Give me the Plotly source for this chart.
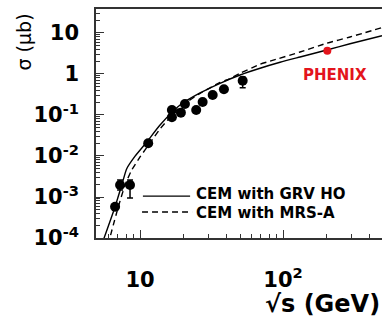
import math
import plotly.graph_objects as go

# ---- data ----
# CEM with GRV HO (solid)
grv_sqrt_s = [5.54, 6.69, 7.45, 8.07, 9.23, 11.14, 13.80, 19.04, 26.28, 36.26, 50.03, 69.07, 95.3, 131.5, 202.1, 294.0, 492.0]
grv_sigma = [8.93e-5, 5.80e-4, 1.96e-3, 4.9e-3, 9.9e-3, 0.0219, 0.0570, 0.175, 0.344, 0.593, 0.946, 1.38, 1.93, 2.60, 3.85, 5.45, 8.59]

# CEM with MRS-A (dashed)
mrs_sqrt_s = [5.96, 7.05, 7.86, 8.75, 10.0, 11.75, 13.80, 19.04, 26.28, 36.26, 40.4, 50.03, 69.07, 81.1, 131.5, 202.1, 294.0, 492.0]
mrs_sigma = [6.7e-5, 5.80e-4, 1.96e-3, 4.56e-3, 9.46e-3, 0.0208, 0.0456, 0.157, 0.334, 0.621, 0.714, 1.04, 1.73, 2.05, 3.44, 5.61, 7.98, 13.5]

# fixed-target / ISR data points
data_sqrt_s = [6.69, 7.25, 8.51, 11.4, 16.7, 16.7, 19.3, 20.6, 24.7, 27.4, 32.2, 38.6, 52.2]
data_sigma = [5.8e-4, 1.96e-3, 1.96e-3, 0.0204, 0.132, 0.088, 0.114, 0.185, 0.132, 0.208, 0.307, 0.424, 0.687]
data_err_plus = [0, 0.00064, 0.00064, 0, 0.025, 0, 0, 0, 0, 0, 0, 0, 0.158]
data_err_minus = [0, 0.00048, 0.00101, 0, 0, 0, 0, 0, 0, 0, 0, 0, 0.224]

# PHENIX point
phenix_sqrt_s = [204.0]
phenix_sigma = [3.7]

x_tickvals = [10, 100]
x_ticktext = ["10", "10<sup>2</sup>"]
y_tickvals = [1e-4, 1e-3, 1e-2, 1e-1, 1, 10]
y_ticktext = ["10<sup>-4</sup>", "10<sup>-3</sup>", "10<sup>-2</sup>", "10<sup>-1</sup>", "1", "10"]

legend_labels = ["CEM with GRV HO", "CEM with MRS-A"]

# ---- figure ----
FONT = "DejaVu Sans"
AX = "#333333"

fig = go.Figure()
fig.add_trace(go.Scatter(x=grv_sqrt_s, y=grv_sigma, mode="lines",
                         line=dict(color="black", width=1.4, shape="spline", smoothing=0.6),
                         name=legend_labels[0], showlegend=False))
fig.add_trace(go.Scatter(x=mrs_sqrt_s, y=mrs_sigma, mode="lines",
                         line=dict(color="black", width=1.4, dash="6px,4px", shape="spline", smoothing=0.6),
                         name=legend_labels[1], showlegend=False))
fig.add_trace(go.Scatter(x=data_sqrt_s, y=data_sigma, mode="markers",
                         marker=dict(color="black", size=10),
                         error_y=dict(type="data", symmetric=False, array=data_err_plus,
                                      arrayminus=data_err_minus, color="black", thickness=1.5, width=3),
                         showlegend=False))
fig.add_trace(go.Scatter(x=phenix_sqrt_s, y=phenix_sigma, mode="markers",
                         marker=dict(color="#e3141c", size=8), showlegend=False))

def minor_vals(lo, hi):
    vals = []
    for k in range(lo, hi + 1):
        for m in range(2, 10):
            vals.append(m * 10 ** k)
    return vals

fig.update_xaxes(type="log", range=[math.log10(4.92), math.log10(492)],
                 showline=True, linecolor=AX, linewidth=1.5, mirror=True,
                 ticks="inside", ticklen=8, tickwidth=1.3, tickcolor=AX,
                 tickmode="array", tickvals=x_tickvals, ticktext=x_ticktext,
                 tickfont=dict(family=FONT, size=21, color="black", weight="bold"),
                 ticklabelstandoff=22,
                 minor=dict(tickmode="array", tickvals=minor_vals(0, 2), ticks="inside",
                            ticklen=4, tickwidth=1.1, tickcolor=AX, showgrid=False),
                 showgrid=False, zeroline=False)
fig.update_yaxes(type="log", range=[-4, 1.585],
                 showline=True, linecolor=AX, linewidth=1.5, mirror=False,
                 ticks="inside", ticklen=8, tickwidth=1.3, tickcolor=AX,
                 tickmode="array", tickvals=y_tickvals, ticktext=y_ticktext,
                 tickfont=dict(family=FONT, size=21, color="black", weight="bold"),
                 ticklabelstandoff=11,
                 minor=dict(tickmode="array", tickvals=minor_vals(-4, 1), ticks="inside",
                            ticklen=4, tickwidth=1.1, tickcolor=AX, showgrid=False),
                 showgrid=False, zeroline=False)

# legend drawn as line samples + labels
fig.add_shape(type="line", xref="paper", yref="paper", x0=0.164, x1=0.329, y0=0.183, y1=0.183,
              line=dict(color="black", width=1.4))
fig.add_shape(type="line", xref="paper", yref="paper", x0=0.161, x1=0.336, y0=0.1135, y1=0.1135,
              line=dict(color="black", width=1.4, dash="6px,4px"))
fig.add_annotation(xref="paper", yref="paper", x=0.344, y=0.192, xanchor="left", yanchor="middle",
                   text=legend_labels[0], showarrow=False,
                   font=dict(family=FONT, size=15, color="black", weight="bold"))
fig.add_annotation(xref="paper", yref="paper", x=0.344, y=0.108, xanchor="left", yanchor="middle",
                   text=legend_labels[1], showarrow=False,
                   font=dict(family=FONT, size=15, color="black", weight="bold"))

fig.add_annotation(xref="paper", yref="paper", x=0.836, y=0.712, xanchor="center", yanchor="middle",
                   text="PHENIX", showarrow=False,
                   font=dict(family=FONT, size=15, color="#e3141c", weight="bold"))

# axis titles
fig.add_annotation(xref="paper", yref="paper", x=1.0, y=-0.29, xanchor="right", yanchor="middle",
                   text="√s (GeV)", showarrow=False,
                   font=dict(family=FONT, size=24, color="black", weight="bold"))
fig.add_annotation(xref="paper", yref="paper", x=(36 - 96) / 286, y=(238 - 12) / 229,
                   xanchor="right", yanchor="top",
                   text="σ (μb)", textangle=-90, showarrow=False,
                   font=dict(family=FONT, size=19, color="black"))

fig.update_layout(width=382, height=320, margin=dict(l=96, r=0, t=9, b=82),
                  paper_bgcolor="white", plot_bgcolor="white", showlegend=False)

fig.write_html("out.html")
